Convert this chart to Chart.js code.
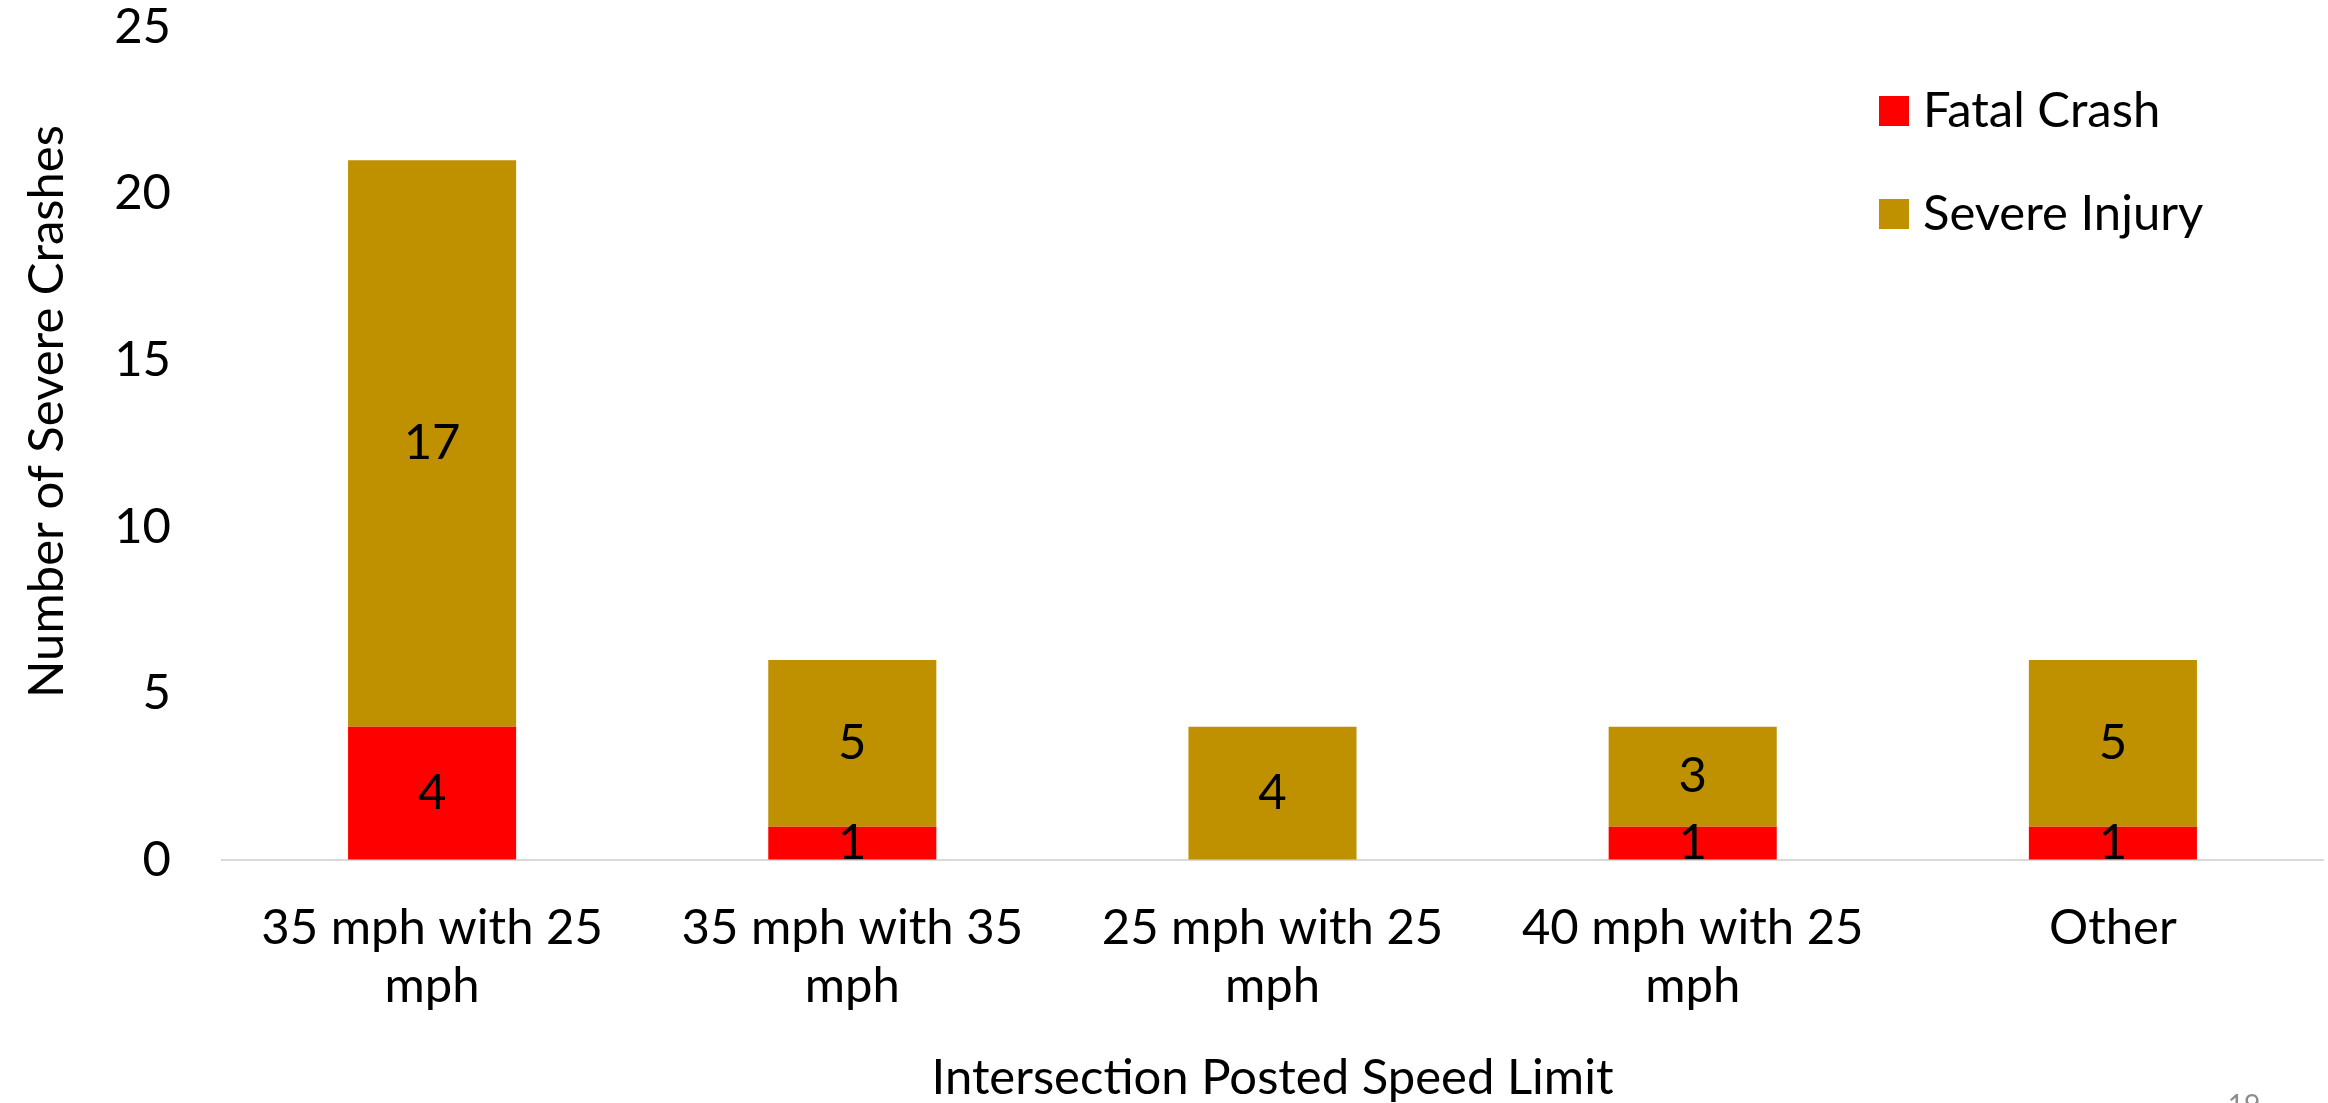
<!DOCTYPE html>
<html>
<head>
<meta charset="utf-8">
<script src="https://cdn.jsdelivr.net/npm/chart.js@4.4.1/dist/chart.umd.min.js"></script>
<style>
  html, body { margin: 0; padding: 0; background: #fff; }
  #crashChart { display: block; }
</style>
</head>
<body>
<canvas id="crashChart" width="2328" height="1103"></canvas>
<script>
// chart data
const categories = [
  ["35 mph with 25", "mph"],
  ["35 mph with 35", "mph"],
  ["25 mph with 25", "mph"],
  ["40 mph with 25", "mph"],
  "Other"
];
const seriesNames = ["Fatal Crash", "Severe Injury"];
const fatalCrash = [4, 1, 0, 1, 1];
const severeInjury = [17, 5, 4, 3, 5];
const yMin = 0, yMax = 25, yStep = 5;
const yTitle = "Number of Severe Crashes";
const xTitle = "Intersection Posted Speed Limit";
const pageNumber = "19";

const FONT = "Lato";
const colors = ["#FF0000", "#BF9000"];

// value labels in the middle of each segment
const barLabels = {
  id: "barLabels",
  afterDatasetsDraw(chart) {
    const ctx = chart.ctx;
    ctx.save();
    ctx.font = "49px " + FONT;
    ctx.fillStyle = "#000";
    ctx.textAlign = "center";
    ctx.textBaseline = "middle";
    chart.data.datasets.forEach((ds, i) => {
      chart.getDatasetMeta(i).data.forEach((bar, j) => {
        const v = ds.data[j];
        if (!v) return;
        ctx.fillText(String(v), bar.x, (bar.y + bar.base) / 2);
      });
    });
    ctx.restore();
  }
};

// legend, y title, page number
const extras = {
  id: "extras",
  afterDraw(chart) {
    const ctx = chart.ctx;
    const area = chart.chartArea;
    ctx.save();
    ctx.font = "49px " + FONT;
    ctx.textBaseline = "middle";
    ctx.textAlign = "left";
    chart.data.datasets.forEach((ds, i) => {
      const cy = 111 + i * 103;
      ctx.fillStyle = ds.backgroundColor;
      ctx.fillRect(1879, cy - 15, 30, 30);
      ctx.fillStyle = "#000";
      ctx.fillText(ds.label, 1923, cy);
    });

    ctx.save();
    ctx.translate(47, (area.top + area.bottom) / 2 - 32);
    ctx.rotate(-Math.PI / 2);
    ctx.textAlign = "center";
    ctx.fillText(yTitle, 0, 0);
    ctx.restore();

    ctx.font = "28px " + FONT;
    ctx.fillStyle = "#8c8c8c";
    ctx.textAlign = "center";
    ctx.textBaseline = "alphabetic";
    ctx.fillText(pageNumber, 2244, 1115);
    ctx.restore();
  }
};

const ctx = document.getElementById("crashChart").getContext("2d");

const crashChart = new Chart(ctx, {
  type: "bar",
  data: {
    labels: categories,
    datasets: [
      { label: seriesNames[0], data: fatalCrash, backgroundColor: colors[0] },
      { label: seriesNames[1], data: severeInjury, backgroundColor: colors[1] }
    ]
  },
  options: {
    responsive: false,
    devicePixelRatio: 1,
    animation: false,
    layout: { padding: { top: 27, right: 5, left: 0, bottom: 0 } },
    datasets: {
      bar: { categoryPercentage: 1, barPercentage: 0.4, borderWidth: 0 }
    },
    plugins: {
      legend: { display: false },
      tooltip: { enabled: false }
    },
    scales: {
      x: {
        stacked: true,
        grid: { display: false, drawTicks: false },
        border: { display: true, color: "#d9d9d9", width: 2 },
        ticks: {
          color: "#000",
          padding: 39,
          maxRotation: 0,
          autoSkip: false,
          font: { family: FONT, size: 49, lineHeight: 1.19 }
        },
        title: {
          display: true,
          text: xTitle,
          color: "#000",
          padding: 0,
          font: { family: FONT, size: 49, lineHeight: 1 }
        },
        afterFit(scale) { scale.height = 243; }
      },
      y: {
        stacked: true,
        min: yMin,
        max: yMax,
        // invisible tick marks push the labels left without adding top padding
        grid: {
          display: true,
          drawOnChartArea: false,
          drawTicks: true,
          tickLength: 51,
          color: "rgba(0,0,0,0)"
        },
        border: { display: false },
        ticks: {
          stepSize: yStep,
          color: "#000",
          padding: 0,
          font: { family: FONT, size: 49, lineHeight: 1 }
        },
        afterFit(scale) { scale.width = 222; }
      }
    }
  },
  plugins: [barLabels, extras]
});
</script>
</body>
</html>
